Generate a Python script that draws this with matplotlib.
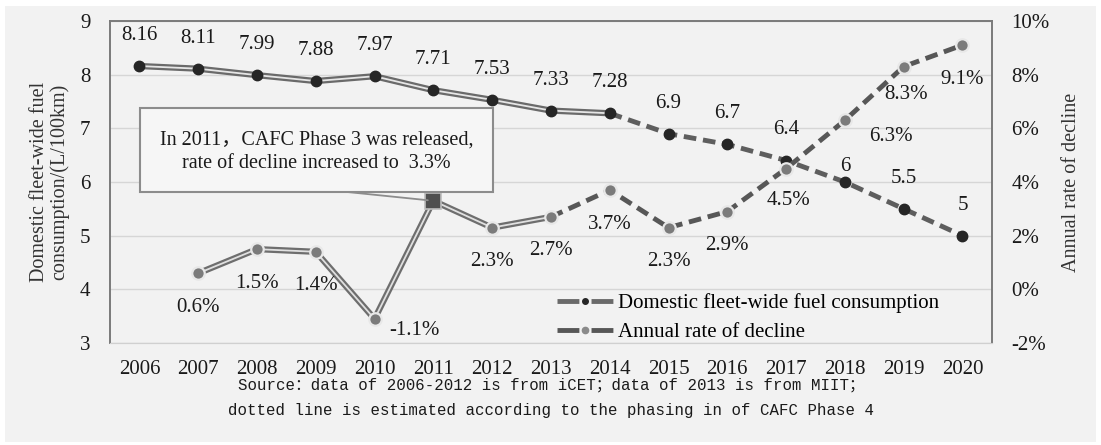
import matplotlib
matplotlib.use('Agg')
import matplotlib.pyplot as plt
from matplotlib.lines import Line2D
from matplotlib.patches import Rectangle

plt.rcParams['font.family'] = ['Liberation Serif', 'Noto Sans CJK SC']

years = ['2006', '2007', '2008', '2009', '2010', '2011', '2012', '2013',
         '2014', '2015', '2016', '2017', '2018', '2019', '2020']
fuel = [8.16, 8.11, 7.99, 7.88, 7.97, 7.71, 7.53, 7.33, 7.28,
        6.9, 6.7, 6.4, 6, 5.5, 5]
fuel_labels = ['8.16', '8.11', '7.99', '7.88', '7.97', '7.71', '7.53', '7.33',
               '7.28', '6.9', '6.7', '6.4', '6', '5.5', '5']
# annual rate of decline starts in 2007
rate = [0.6, 1.5, 1.4, -1.1, 3.3, 2.3, 2.7, 3.7, 2.3, 2.9, 4.5, 6.3, 8.3, 9.1]
rate_labels = ['0.6%', '1.5%', '1.4%', '-1.1%', '3.3%', '2.3%', '2.7%', '3.7%',
               '2.3%', '2.9%', '4.5%', '6.3%', '8.3%', '9.1%']
left_ticks = [3, 4, 5, 6, 7, 8, 9]
right_ticks = [-2, 0, 2, 4, 6, 8, 10]

fuel_split = 8   # 2014: measured -> estimated
rate_split = 7   # 2013

fig = plt.figure(figsize=(11.01, 4.45), dpi=100)
fig.patch.set_facecolor('white')
fig.patches.append(Rectangle((5 / 1101, 0.0067), 1091 / 1101, 0.98,
                             transform=fig.transFigure, facecolor='#f2f2f2',
                             edgecolor='none', zorder=-10))

ax = fig.add_axes([0.0999, 0.229, 0.801, 0.724])
ax.set_facecolor('none')
ax2 = ax.twinx()

x = list(range(len(years)))
xr = x[1:]

# fuel consumption: measured part as double line, estimated part dashed
ax.plot(x[:fuel_split + 1], fuel[:fuel_split + 1], color='#6a6a6a', lw=4.5,
        solid_capstyle='round', zorder=3)
ax.plot(x[:fuel_split + 1], fuel[:fuel_split + 1], color='#e6e6e6', lw=1.3,
        zorder=3)
ax.plot(x[fuel_split:], fuel[fuel_split:], color='#5e5e5e', lw=3.5,
        dashes=(2.6, 1.4), zorder=3)
ax.plot(x, fuel, 'o', ms=7.5, color='#262626', zorder=4)

# rate of decline
k = rate_split - 1
ax2.plot(xr[:k + 1], rate[:k + 1], color='#6e6e6e', lw=4.5, zorder=3)
ax2.plot(xr[:k + 1], rate[:k + 1], color='#e0e0e0', lw=1.3, zorder=3)
ax2.plot(xr[k:], rate[k:], color='#575757', lw=3.5, dashes=(2.6, 1.4), zorder=3)
mk = [i for i in range(len(rate)) if years[i + 1] != '2011']
ax2.plot([xr[i] for i in mk], [rate[i] for i in mk], 'o', ms=9,
         mfc='#7b7b7b', mec='#e8e8e8', mew=1.6, zorder=4)
i11 = years.index('2011') - 1
ax2.plot(xr[i11], rate[i11], 's', ms=12, mfc='#4f4f4f', mec='#bdbdbd',
         mew=1.2, zorder=4)

# data labels
fuel_off = {'6': 11}
for xi, v, t in zip(x, fuel, fuel_labels):
    ax.annotate(t, (xi, v), xytext=(0, fuel_off.get(t, 22)),
                textcoords='offset points', ha='center', va='center',
                fontsize=15, color='#1a1a1a', zorder=6)

rate_off = {'-1.1%': (29, -8), '6.3%': (33, -11.5), '8.3%': (2, -20),
            '4.5%': (2, -23)}
for i, (xi, v, t) in enumerate(zip(xr, rate, rate_labels)):
    if years[i + 1] == '2011':
        continue
    dx, dy = rate_off.get(t, (0, -24.5))
    ax2.annotate(t, (xi, v), xytext=(dx, dy), textcoords='offset points',
                 ha='center', va='center', fontsize=15, color='#1a1a1a',
                 zorder=6)

# axes styling
ax.set_xlim(-0.5, 14.5)
ax.set_ylim(3, 9)
ax2.set_ylim(-2, 10)
ax.set_xticks(x)
ax.set_xticklabels(years)
ax.set_yticks(left_ticks)
ax2.set_yticks(right_ticks)
ax2.set_yticklabels([f'{t}%' for t in right_ticks])
ax.yaxis.grid(True, color='#d6d6d6', lw=1)
ax.set_axisbelow(True)
ax.tick_params(axis='both', length=0, labelsize=15, colors='#1a1a1a')
ax.tick_params(axis='y', pad=14)
ax.tick_params(axis='x', pad=12)
ax2.tick_params(axis='y', length=0, labelsize=15, colors='#1a1a1a', pad=14)
for a in (ax, ax2):
    for s in ('left', 'right', 'top'):
        a.spines[s].set_color('#7a7a7a')
        a.spines[s].set_linewidth(1.2)
    a.spines['bottom'].set_color('#d0d0d0')

fig.text(50 / 1101, 1 - 182 / 445,
         'Domestic fleet-wide fuel\nconsumption/(L/100km)',
         rotation=90, ha='center', va='center', fontsize=14.5,
         color='#333333', linespacing=1.05)
fig.text(1071 / 1101, 1 - 182 / 445, 'Annual rate of decline',
         rotation=90, ha='center', va='center', fontsize=14.5, color='#333333')

# callout box
ax2.add_patch(Rectangle((0.034, 0.469), 0.40, 0.261, transform=ax2.transAxes,
                        facecolor='#f6f6f6', edgecolor='#8c8c8c', lw=1.5,
                        zorder=7))
ax2.text(0.234, 0.594,
         'In 2011，CAFC Phase 3 was released,\nrate of decline increased to  3.3%',
         transform=ax2.transAxes, ha='center', va='center', fontsize=14.5,
         linespacing=1.3, color='#1a1a1a', zorder=8)
ax2.annotate('', xy=(xr[i11], rate[i11]), xytext=(0.269, 0.469),
             textcoords='axes fraction',
             arrowprops=dict(arrowstyle='-', color='#8c8c8c', lw=1.3,
                             shrinkA=0, shrinkB=4), zorder=6)

handles = [
    Line2D([], [], color='#6a6a6a', lw=3.5, dashes=(4.5, 2.5), marker='o',
           ms=4, mfc='#262626', mec='#262626'),
    Line2D([], [], color='#575757', lw=3.5, dashes=(4.5, 2.5), marker='o',
           ms=4.5, mfc='#8a8a8a', mec='#8a8a8a'),
]
leg = ax2.legend(handles, ['Domestic fleet-wide fuel consumption',
                           'Annual rate of decline'],
                 loc='center left', bbox_to_anchor=(0.507, 0.078),
                 frameon=False, fontsize=15, handlelength=2.7,
                 handletextpad=0.2, labelspacing=0.45, borderpad=0,
                 borderaxespad=0)
leg.set_zorder(9)

mono = ['Liberation Mono', 'Noto Sans CJK SC']
fig.text(551 / 1101, 1 - 385 / 445,
         'Source：data of 2006-2012 is from iCET；data of 2013 is from MIIT；',
         ha='center', va='center', fontsize=11.3, family=mono, color='#1a1a1a')
fig.text(551 / 1101, 1 - 411 / 445,
         'dotted line is estimated according to the phasing in of CAFC Phase 4',
         ha='center', va='center', fontsize=11.3, family=mono, color='#1a1a1a')

fig.savefig('out.png', dpi=100, facecolor=fig.get_facecolor())
